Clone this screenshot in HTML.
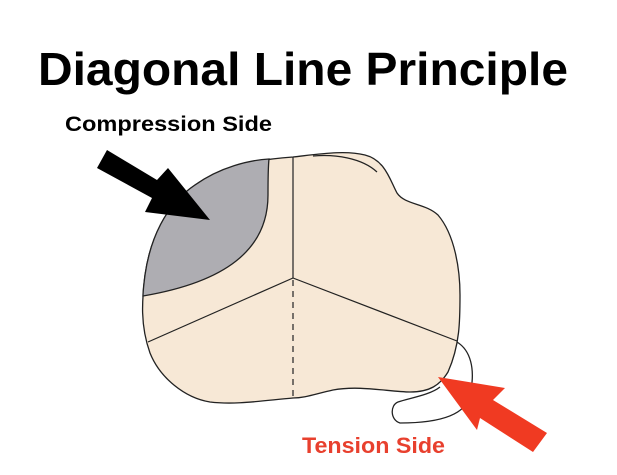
<!DOCTYPE html>
<html><head><meta charset="utf-8"><style>html,body{margin:0;padding:0;background:#fff}svg{display:block}</style></head>
<body>
<svg width="617" height="475" viewBox="0 0 617 475" xmlns="http://www.w3.org/2000/svg">
<rect width="617" height="475" fill="#fff"/>
<text x="38" y="85" font-family="Liberation Sans, sans-serif" font-weight="bold" font-size="46" textLength="530" lengthAdjust="spacingAndGlyphs" fill="#000">Diagonal Line Principle</text>
<text x="65" y="131" font-family="Liberation Sans, sans-serif" font-weight="bold" font-size="21" textLength="207" lengthAdjust="spacingAndGlyphs" fill="#000">Compression Side</text>
<text x="302" y="453" font-family="Liberation Sans, sans-serif" font-weight="bold" font-size="22" textLength="143" lengthAdjust="spacingAndGlyphs" fill="#e8402e">Tension Side</text>
<path d="M457,342 C470,350 476,368 470,395 C466,415 440,423 400,423 C390,420 390,405 398,402 C410,398 430,395 440,387" fill="none" stroke="#222" stroke-width="1.3"/>
<path d="M293,157 C320,154 345,150 365,155 C385,160 390,180 397,193 C405,205 425,203 438,215 C455,235 460,270 460,295 C460,320 460,345 448,372 C440,385 430,392 410,392 C390,392 360,385 333,390 C315,394 305,398 293,398 C260,401 235,405 210,402 C185,398 160,378 150,353 C140,325 142,300 145,275 C150,240 165,205 195,185 C220,168 250,160 293,157 Z" fill="#f7e8d6" stroke="#222" stroke-width="1.3"/>
<path d="M269,159 C250,160 220,167 195,185 C165,205 150,240 145,275 C144,283 143,290 143,296 C225,282 268,250 268,195 C268,180 268,168 269,159 Z" fill="#aeadb2" stroke="#222" stroke-width="1.3"/>
<line x1="293" y1="157" x2="293" y2="278" stroke="#222" stroke-width="1.2"/>
<line x1="293" y1="278" x2="148" y2="342" stroke="#222" stroke-width="1.2"/>
<line x1="293" y1="278" x2="457" y2="341" stroke="#222" stroke-width="1.2"/>
<line x1="293" y1="280" x2="293" y2="398" stroke="#222" stroke-width="1.2" stroke-dasharray="6,5"/>
<path d="M313,156 C335,154 362,158 377,172" fill="none" stroke="#222" stroke-width="1.2"/>
<polygon points="97,168 107,150 157,180 168,168 210,220 145,212 152,198" fill="#000"/>
<polygon points="438,377 505,388 493,400 547,433 533,452 480,418 477,430" fill="#f03a22"/>
</svg>
</body></html>
